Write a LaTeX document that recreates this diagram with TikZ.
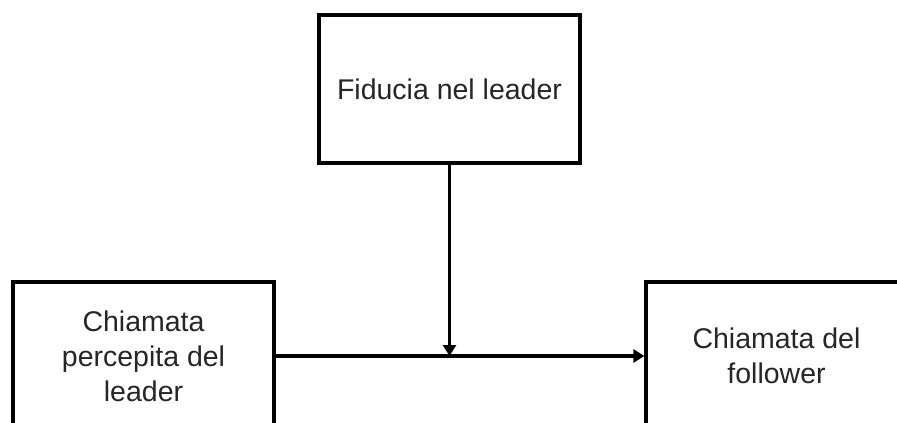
\documentclass[tikz,border=0pt]{standalone}
\usepackage{fontspec}
\setmainfont{Liberation Sans}
\usetikzlibrary{arrows.meta}
\begin{document}
\begin{tikzpicture}[x=1pt,y=-1pt,
  box/.style={draw=black,line width=3.2pt,rectangle,minimum width=261pt,minimum height=148pt,
    inner sep=0pt,align=center,font=\fontsize{28.5}{35}\selectfont,text=black!85},
  conn/.style={line width=3.2pt,-{Triangle[width=13pt,length=11pt]}}]
\useasboundingbox (0,0) rectangle (897,423);
\clip (0,0) rectangle (897,423);
\fill[white] (0,0) rectangle (897,423);
\node[box] (trust) at (449.5,89) {Fiducia nel leader};
\node[box] (perc) at (143.5,356) {Chiamata\\percepita del\\leader};
\node[box] (foll) at (776.5,356) {Chiamata del\\follower};
\coordinate (mid) at (trust.south |- perc.east);
\draw[conn] (perc.east) -- (foll.west);
\draw[conn] (trust.south) -- (mid);
\end{tikzpicture}
\end{document}
